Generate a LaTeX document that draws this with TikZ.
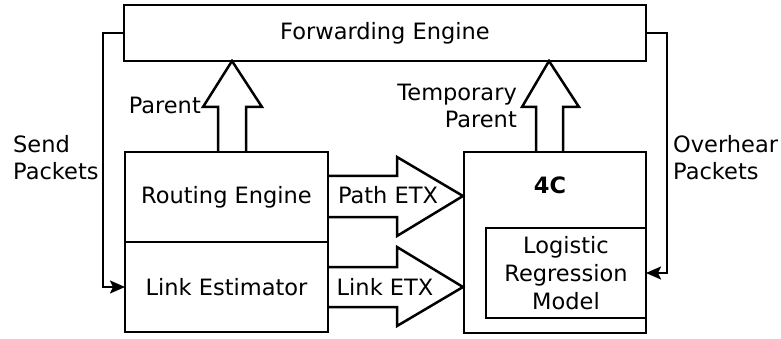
\documentclass[tikz,border=0pt]{standalone}
\usepackage{fontspec}
\setmainfont{DejaVu Sans}
\usetikzlibrary{calc,positioning,arrows.meta}
\tikzstyle{block} = [rectangle, draw, line width=2.5pt, inner sep=0pt, outer sep=0pt,
                     minimum width=203pt, minimum height=90pt]
\tikzstyle{fat}   = [line width=2.5pt, line join=miter]
\tikzstyle{feed}  = [line width=2pt, -{Stealth[length=15pt,width=13pt,inset=3pt]}]
\tikzstyle{lbl}   = [inner sep=0pt, align=left]

\begin{document}
\begin{tikzpicture}[x=1pt,y=-1pt,font=\fontsize{22.5}{27}\selectfont]
        \useasboundingbox (0,0) rectangle (781,339);

        % boxes
        \node[block, minimum width=522pt, minimum height=56pt] (fwd) at (385,33) {Forwarding Engine};
        \node[block] (route) at (226.5,197) {Routing Engine};
        \node[block, below=0pt of route] (link) {Link Estimator};
        \node[block, minimum width=182pt, minimum height=181pt] (fourc) at (555,242.5) {};
        \node[lbl] (fourclbl) at (550,185) {\bfseries 4C};
        \node[block, minimum width=160pt, anchor=south east, align=center,
              font=\fontsize{22.5}{28}\selectfont] (lr)
              at ($(fourc.south east)+(0,-15)$) {Logistic\\Regression\\Model};

        % fat arrows
        \draw[fat] (218,152) -- (218,107) -- (203,107) -- (232,61) -- (262,107) -- (246,107) -- (246,152);
        \draw[fat] (536,152) -- (536,107) -- (522,107) -- (549,61) -- (579,107) -- (563,107) -- (563,152);
        \draw[fat] (328,176) -- (397,176) -- (397,157) -- (463,196) -- (397,236) -- (397,217) -- (328,217);
        \draw[fat] (328,267) -- (397,267) -- (397,247) -- (463,287) -- (397,326) -- (397,307) -- (328,307);

        \node[lbl, anchor=east] (parent) at (201,105) {Parent};
        \node[lbl, anchor=east, align=right] (tparent) at (517,106) {Temporary\\Parent};
        \node[lbl] (pathetx) at (388,195) {Path ETX};
        \node[lbl] (linketx) at (385,287) {Link ETX};

        % packet feeds
        \draw[feed] (fwd.west) -- ++(-21,0) |- (link.west);
        \draw[feed] (fwd.east) -- ++(21,0) |- (lr.east);
        \node[lbl, anchor=west] (send) at (13,158) {Send\\Packets};
        \node[lbl, anchor=west] (overhear) at (673,158) {Overhear\\Packets};
\end{tikzpicture}
\end{document}
